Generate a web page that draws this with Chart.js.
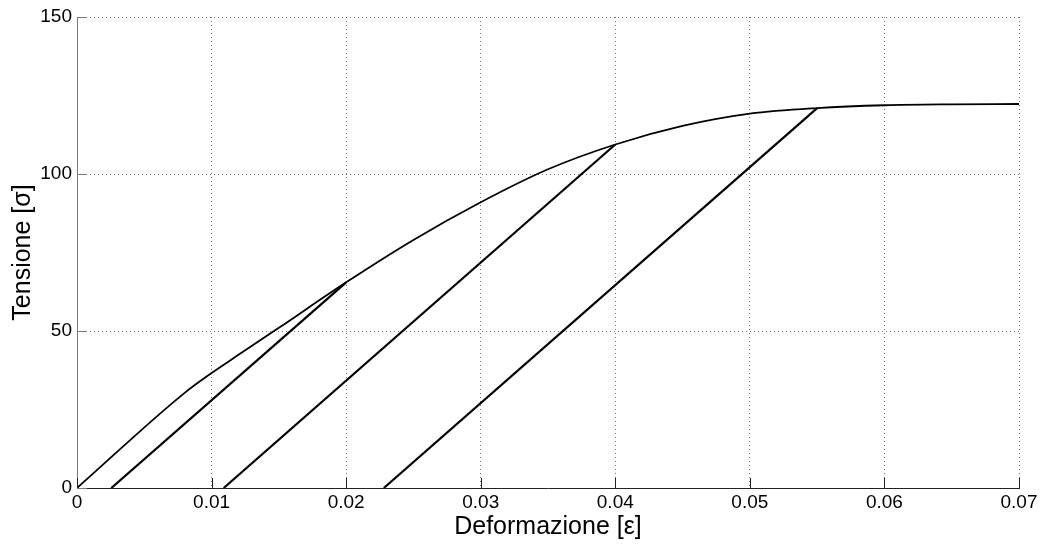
<!DOCTYPE html>
<html>
<head>
<meta charset="utf-8">
<script src="https://cdn.jsdelivr.net/npm/chart.js@4/dist/chart.umd.min.js"></script>
<style>
    html, body { margin: 0; padding: 0; background: #fff; }
    #wrap { width: 1044px; height: 545px; }
</style>
</head>
<body>
<div id="wrap"><canvas id="stressStrain" width="1044" height="545"></canvas></div>
<script>
// curva di inviluppo (deformazione / tensione)
const envStrain = [0, 0.008, 0.010, 0.012, 0.015, 0.020, 0.025, 0.030, 0.035, 0.040, 0.045, 0.050, 0.055, 0.060, 0.065, 0.070];
const envStress = [0, 30.3, 36.6, 42.4, 51.0, 65.5, 79.0, 91.0, 101.5, 109.4, 115.3, 119.2, 121.0, 121.9, 122.2, 122.3];

// rami di scarico: deformazione residua a tensione nulla -> punto di inviluppo
const unloadZeroStrain = [0.00255, 0.0109, 0.0228];
const unloadPeakStrain = [0.020, 0.040, 0.055];
const unloadPeakStress = [65.5, 109.4, 121.0];

// tacche degli assi
const xTicks = [0, 0.01, 0.02, 0.03, 0.04, 0.05, 0.06, 0.07];
const yTicks = [0, 50, 100, 150];

const FONT = "'Liberation Sans', Arial, Helvetica, sans-serif";

const datasets = [{
    data: envStrain.map((x, i) => ({ x: x, y: envStress[i] })),
    borderColor: '#000',
    borderWidth: 1.8,
    pointRadius: 0,
    cubicInterpolationMode: 'monotone'
}];

unloadZeroStrain.forEach((x0, i) => {
    datasets.push({
        data: [{ x: x0, y: 0 }, { x: unloadPeakStrain[i], y: unloadPeakStress[i] }],
        borderColor: '#000',
        borderWidth: 2.2,
        pointRadius: 0
    });
});

// tacche rivolte verso l'interno, come nei grafici matlab
const innerTicks = {
    id: 'innerTicks',
    afterDraw(chart) {
        const c = chart.ctx;
        const xs = chart.scales.x;
        const ys = chart.scales.y;
        const len = 10;
        c.save();
        c.lineWidth = 1;
        c.strokeStyle = '#222';
        xTicks.forEach(v => {
            const px = Math.round(xs.getPixelForValue(v)) + 0.5;
            c.beginPath();
            c.moveTo(px, ys.bottom);
            c.lineTo(px, ys.bottom - len);
            c.stroke();
        });
        c.strokeStyle = '#777';
        yTicks.forEach(v => {
            const py = Math.round(ys.getPixelForValue(v)) + 0.5;
            c.beginPath();
            c.moveTo(xs.left, py);
            c.lineTo(xs.left + len, py);
            c.stroke();
        });
        c.restore();
    }
};

const gridStyle = {
    color: 'rgba(0,0,0,0.55)',
    lineWidth: 1,
    drawTicks: false,
    tickLength: 0
};

new Chart(document.getElementById('stressStrain'), {
    type: 'scatter',
    data: { datasets: datasets },
    options: {
        responsive: false,
        animation: false,
        showLine: true,
        layout: { padding: { left: 0, top: 17, right: 25, bottom: 0 } },
        plugins: { legend: { display: false }, tooltip: { enabled: false } },
        scales: {
            x: {
                type: 'linear',
                min: 0,
                max: 0.07,
                afterBuildTicks: s => { s.ticks = xTicks.map(v => ({ value: v })); },
                afterFit: s => { s.height = 57; },
                grid: Object.assign({}, gridStyle),
                border: { display: true, color: '#222', width: 1, dash: [1, 3] },
                ticks: {
                    padding: 5,
                    color: '#000',
                    font: { family: FONT, size: 19, lineHeight: 1 },
                    maxRotation: 0,
                    callback: v => String(+v.toFixed(2))
                },
                title: {
                    display: true,
                    text: 'Deformazione [ε]',
                    color: '#000',
                    font: { family: FONT, size: 25, lineHeight: 1 },
                    padding: { top: 0, bottom: 5 }
                }
            },
            y: {
                type: 'linear',
                min: 0,
                max: 150,
                afterBuildTicks: s => { s.ticks = yTicks.map(v => ({ value: v })); },
                afterFit: s => { s.width = 77; },
                grid: Object.assign({}, gridStyle),
                border: { display: true, color: '#777', width: 1, dash: [1, 3] },
                ticks: {
                    padding: 5,
                    color: '#000',
                    font: { family: FONT, size: 19, lineHeight: 1 },
                    callback: v => String(v)
                },
                title: {
                    display: true,
                    text: 'Tensione [σ]',
                    color: '#000',
                    font: { family: FONT, size: 25, lineHeight: 1 },
                    padding: { top: 11, bottom: 0 }
                }
            }
        }
    },
    plugins: [innerTicks]
});
</script>
</body>
</html>
